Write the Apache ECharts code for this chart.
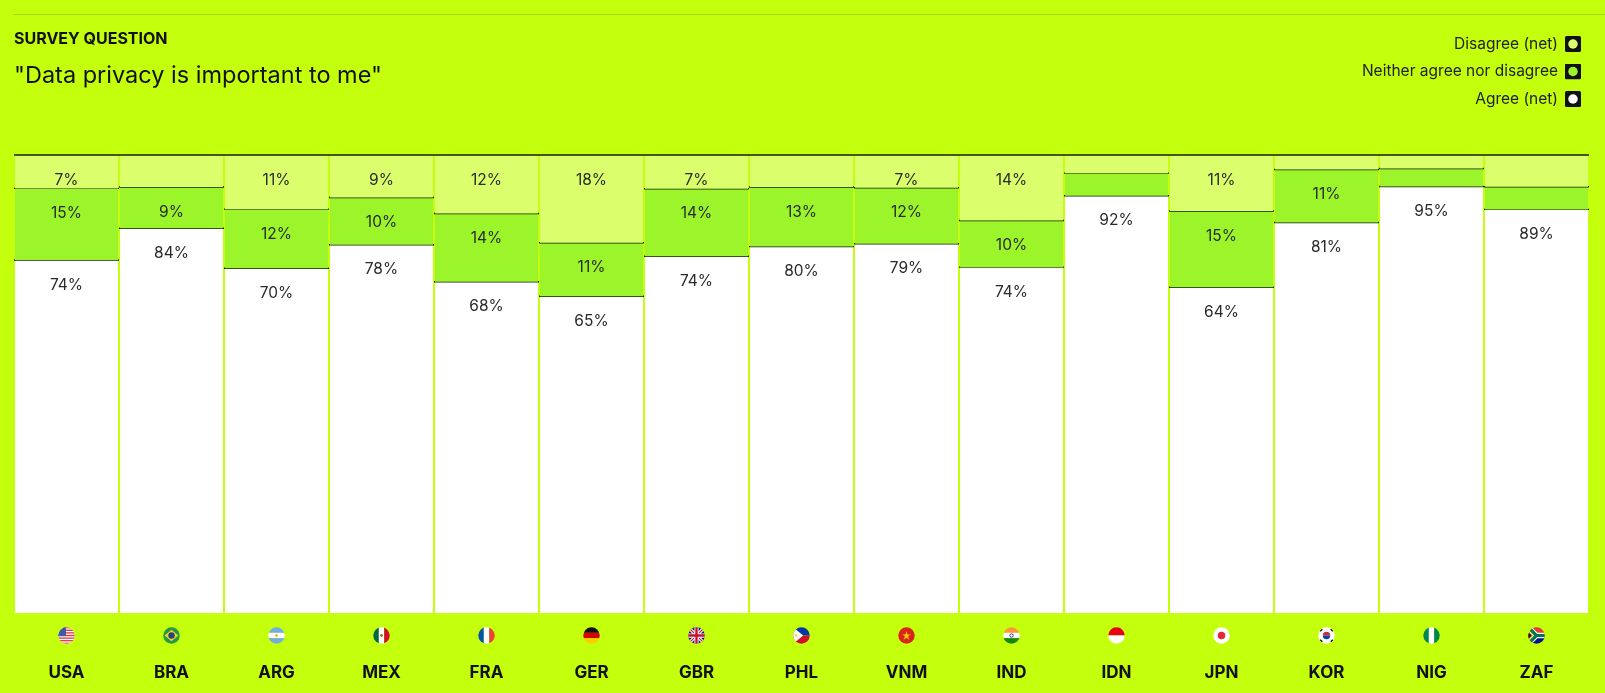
<!DOCTYPE html>
<html>
<head>
<meta charset="utf-8">
<script src="https://cdn.jsdelivr.net/npm/echarts@6/dist/echarts.min.js"></script>
<style>
html,body{margin:0;padding:0;background:#c4ff0e;}
#chart{width:1605px;height:693px;}
</style>
</head>
<body>
<div id="chart"></div>
<script>
// survey: "Data privacy is important to me" (share of respondents, %)
var countries = ['USA','BRA','ARG','MEX','FRA','GER','GBR','PHL','VNM','IND','IDN','JPN','KOR','NIG','ZAF'];
var agree    = [74, 84, 70, 78, 68, 65, 74, 80, 79, 74, 92, 64, 81, 95, 89];
var neither  = [15,  9, 12, 10, 14, 11, 14, 13, 12, 10,  5, 15, 11,  4,  5];
var disagree = [ 7,  7, 11,  9, 12, 18,  7,  7,  7, 14,  4, 11,  3,  3,  7];

var seriesNames = ['Agree (net)','Neither agree nor disagree','Disagree (net)'];
var colors = ['#ffffff','#9bf52a','#dbff6c'];

var BG = '#c4ff0e';
var FONT = 'Inter, "Noto Sans", sans-serif';
var MIN_LABEL_SHARE = 0.071; // small slices get no label

function svgUrl(inner, size){
	size = size || 32;
	var s = '<svg xmlns="http://www.w3.org/2000/svg" width="'+size+'" height="'+size+'" viewBox="0 0 32 32">' + inner + '</svg>';
	return 'data:image/svg+xml;charset=utf-8,' + encodeURIComponent(s);
}
function flagUrl(inner){
	return svgUrl('<defs><clipPath id="c"><circle cx="16" cy="16" r="15.5"/></clipPath></defs><g clip-path="url(#c)">' + inner + '</g>');
}
function hbands(c1,c2,c3){
	return '<rect width="32" height="11" fill="'+c1+'"/><rect y="11" width="32" height="10" fill="'+c2+'"/><rect y="21" width="32" height="11" fill="'+c3+'"/>';
}
function vbands(c1,c2,c3){
	return '<rect width="11" height="32" fill="'+c1+'"/><rect x="11" width="10" height="32" fill="'+c2+'"/><rect x="21" width="11" height="32" fill="'+c3+'"/>';
}

var usa = '<rect width="32" height="32" fill="#fff"/>';
for(var k=0;k<7;k++){
	usa += '<rect y="'+(k*4.92)+'" width="32" height="2.46" fill="#e0343f"/>';
}
usa += '<rect width="15" height="17.2" fill="#3c5aa8"/>';

var flags = {
	USA: usa,
	BRA: '<rect width="32" height="32" fill="#1f9a46"/><polygon points="16,5 29,16 16,27 3,16" fill="#f7d117"/><circle cx="16" cy="16" r="6" fill="#253f91"/>',
	ARG: hbands('#74acdf','#fff','#74acdf') + '<circle cx="16" cy="16" r="2.6" fill="#f6b40e"/>',
	MEX: vbands('#006847','#fff','#ce1126') + '<circle cx="16" cy="16" r="2.6" fill="#a0702a"/>',
	FRA: vbands('#0055a4','#fff','#ef4135'),
	GER: hbands('#111','#dd0000','#ffce00'),
	GBR: '<rect width="32" height="32" fill="#012169"/><path d="M0,0L32,32M32,0L0,32" stroke="#fff" stroke-width="6"/><path d="M0,0L32,32M32,0L0,32" stroke="#c8102e" stroke-width="2"/><path d="M16,0V32M0,16H32" stroke="#fff" stroke-width="8"/><path d="M16,0V32M0,16H32" stroke="#c8102e" stroke-width="4.5"/>',
	PHL: '<rect width="32" height="16" fill="#0038a8"/><rect y="16" width="32" height="16" fill="#ce1126"/><polygon points="0,0 19,16 0,32" fill="#fff"/><circle cx="6" cy="16" r="2.4" fill="#fcd116"/>',
	VNM: '<rect width="32" height="32" fill="#da251d"/><polygon points="16,8 18,14 24,14 19,17.6 21,24 16,20 11,24 13,17.6 8,14 14,14" fill="#ffcd00"/>',
	IND: hbands('#ff9933','#fff','#138808') + '<circle cx="16" cy="16" r="3.2" fill="none" stroke="#000080" stroke-width="1.4"/>',
	IDN: '<rect width="32" height="16" fill="#e70011"/><rect y="16" width="32" height="16" fill="#fff"/>',
	JPN: '<rect width="32" height="32" fill="#fff"/><circle cx="16" cy="16" r="7" fill="#e8243a"/>',
	KOR: '<rect width="32" height="32" fill="#fff"/><path d="M9,16A7,7 0 0 1 23,16Z" fill="#cd2e3a"/><path d="M9,16A7,7 0 0 0 23,16Z" fill="#0047a0"/><path d="M4,8L8,4M24,4L28,8M4,24L8,28M24,28L28,24" stroke="#111" stroke-width="3"/>',
	NIG: vbands('#008751','#fff','#008751'),
	ZAF: '<rect width="32" height="16" fill="#e03c31"/><rect y="16" width="32" height="16" fill="#001489"/><path d="M0,0L16,16L0,32M16,16H32" stroke="#fff" stroke-width="10" fill="none"/><path d="M0,0L16,16L0,32M16,16H32" stroke="#007749" stroke-width="6" fill="none"/><polygon points="0,6 10,16 0,26" fill="#ffb612"/><polygon points="0,9 7,16 0,23" fill="#111"/>'
};

var rich = {
	n: {fontFamily: FONT, fontWeight: 'bold', fontSize: 17, color: '#111', lineHeight: 57}
};
countries.forEach(function(c){
	rich['f' + c] = {backgroundColor: {image: flagUrl(flags[c])}, width: 17, height: 17};
});

// stacked, normalised to the shown answers
var layers = [agree, neither, disagree];
function layerData(li){
	return countries.map(function(c, i){
		var total = agree[i] + neither[i] + disagree[i];
		var base = 0;
		for(var j=0;j<li;j++) base += layers[j][i];
		var v = layers[li][i];
		return [i, base/total*100, (base+v)/total*100, v, v/total];
	});
}

function renderLayer(color){
	return function(params, api){
		var i = api.value(0);
		var p0 = api.coord([i, api.value(1)]);
		var p1 = api.coord([i, api.value(2)]);
		var w = api.size([1, 0])[0];
		var children = [{
			type: 'rect',
			shape: {x: p0[0] - w/2 + 1, y: p1[1], width: w - 2, height: p0[1] - p1[1]},
			style: {fill: color}
		},{
			type: 'line',
			shape: {x1: p0[0] - w/2, y1: p1[1], x2: p0[0] + w/2, y2: p1[1]},
			style: {stroke: '#15220a', lineWidth: 1.4}
		}];
		if(api.value(4) >= MIN_LABEL_SHARE){
			children.push({
				type: 'text',
				style: {
					text: api.value(3) + '%',
					x: p0[0], y: p1[1] + 25,
					align: 'center', verticalAlign: 'middle',
					font: '15.5px ' + FONT,
					fill: '#2a2a2a'
				}
			});
		}
		return {type: 'group', children: children};
	};
}

var series = [];
for(var li=0; li<3; li++){
	series.push({
		name: seriesNames[li],
		type: 'custom',
		renderItem: renderLayer(colors[li]),
		encode: {x: 0, y: [1, 2]},
		data: layerData(li)
	});
}

function legendIcon(fill){
	return 'image://' + svgUrl('<rect x="0" y="0" width="32" height="32" rx="3" fill="#111"/><circle cx="16" cy="16" r="9.5" fill="' + fill + '"/>');
}

var option = {
	backgroundColor: BG,
	animation: false,
	grid: {left: 14, right: 16, top: 155, bottom: 80},
	xAxis: {
		type: 'category',
		data: countries,
		axisLine: {show: false},
		axisTick: {show: false},
		axisLabel: {
			margin: 14,
			interval: 0,
			formatter: function(v){ return '{f' + v + '|}\n{n|' + v + '}'; },
			rich: rich
		}
	},
	yAxis: {type: 'value', min: 0, max: 100, show: false, splitLine: {show: false}},
	legend: {
		orient: 'vertical',
		right: 19,
		top: 31,
		align: 'right',
		itemWidth: 16,
		itemHeight: 16,
		itemGap: 11.5,
		selectedMode: false,
		textStyle: {fontFamily: FONT, fontSize: 15.5, color: '#222', padding: [0, 2, 0, 0]},
		data: [
			{name: seriesNames[2], icon: legendIcon(colors[2])},
			{name: seriesNames[1], icon: legendIcon(colors[1])},
			{name: seriesNames[0], icon: legendIcon(colors[0])}
		]
	},
	graphic: [
		{type: 'line', shape: {x1: 14, y1: 14.5, x2: 1605, y2: 14.5}, style: {stroke: '#a3d80c', lineWidth: 1}},
		{type: 'text', style: {x: 14, y: 39, text: 'SURVEY QUESTION', font: 'bold 16px ' + FONT, fill: '#111', verticalAlign: 'middle'}},
		{type: 'text', style: {x: 14, y: 76, text: '"Data privacy is important to me"', font: '23.5px ' + FONT, fill: '#111', verticalAlign: 'middle'}}
	],
	series: series
};

var myChart = echarts.init(document.getElementById('chart'));
myChart.setOption(option);
</script>
</body>
</html>
